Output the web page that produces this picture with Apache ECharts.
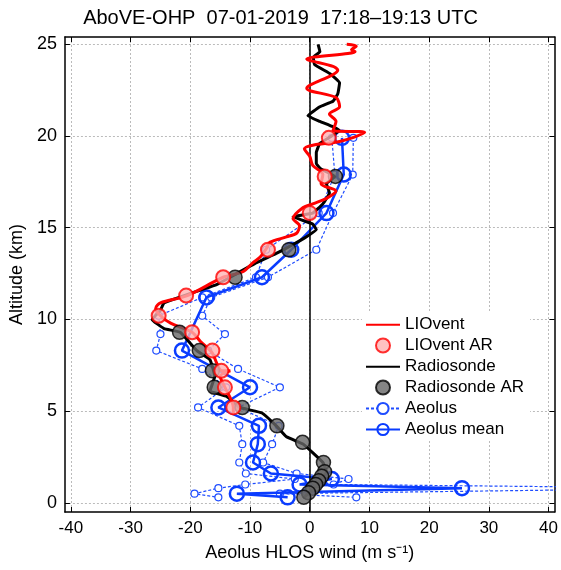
<!DOCTYPE html>
<html>
<head>
<meta charset="utf-8">
<title>AboVE-OHP</title>
<script src="https://cdn.jsdelivr.net/npm/echarts@6/dist/echarts.min.js"></script>
<style>
  body { margin: 0; background: #fff; }
  #chart { width: 561px; height: 570px; }
</style>
</head>
<body>
<div id="chart"></div>
<script>
// LIOvent lidar profile (altitude km, wind m/s)
var lioAlt = [25.0,24.9,24.7,24.6,24.2,23.8,23.6,22.6,22.1,21.6,21.2,20.8,20.3,20.2,19.7,19.5,19.3,18.9,18.4,17.9,17.4,17.0,16.6,16.3,16.1,15.5,15.1,14.7,14.5,14.2,13.9,13.4,13.1,12.6,12.3,11.3,10.9,10.6,10.2,9.8,9.3,8.8,8.2,7.2,7.2,6.9,6.3,5.2,4.8];
var lioVal = [6.2,7.8,7.0,7.6,-0.5,3.9,4.7,-0.5,4.4,5.0,3.3,4.4,3.9,9.2,5.0,0.5,-0.9,0.0,0.5,2.2,1.9,4.4,2.8,0.5,-1.1,-2.8,-1.7,-2.2,-3.9,-6.7,-7.2,-8.3,-9.5,-11.2,-14.5,-20.5,-25.0,-25.8,-25.0,-23.3,-19.7,-18.3,-16.4,-14.7,-13.3,-15.0,-14.2,-12.8,-12.8];
var lioArAlt = [19.9,17.8,15.8,13.8,12.3,11.3,10.2,9.3,8.3,7.2,6.3,5.2];
var lioArVal = [3.2,2.5,0.0,-7.0,-14.5,-20.7,-25.3,-19.7,-16.3,-14.8,-14.2,-12.8];

// radiosonde profile
var rsAlt = [25.0,24.6,24.3,23.9,23.4,22.9,22.3,21.9,21.6,21.1,20.8,20.5,20.3,19.6,19.1,18.5,18.2,17.8,17.4,16.9,16.3,15.8,15.6,15.2,14.9,14.5,14.0,13.6,13.1,12.4,11.9,11.6,10.9,10.5,10.0,9.5,9.3,8.3,7.8,6.9,6.1,5.8,5.2,4.9,4.2,3.6,3.2,2.2,1.7,0.9,0.25];
var rsVal = [1.4,1.7,0.6,0.8,3.4,5.0,4.7,3.9,1.7,-0.3,1.7,3.9,5.0,1.7,1.1,1.1,1.9,4.2,2.8,3.3,2.2,0.5,-2.8,0.5,1.1,-0.6,-3.3,-5.6,-8.9,-12.8,-15.6,-18.3,-24.4,-25.0,-26.4,-24.4,-21.7,-18.9,-16.7,-15.9,-16.7,-13.9,-11.7,-8.0,-5.6,-3.9,-1.1,2.2,2.8,1.1,-1.1];
var rsArAlt = [17.8,13.8,12.3,9.3,8.3,7.2,6.3,5.2,4.2,3.3,2.2,1.7,1.45,1.2,1.0,0.8,0.55,0.3];
var rsArVal = [4.3,-3.5,-12.5,-21.8,-18.5,-16.3,-16.0,-11.3,-5.5,-1.2,2.3,2.5,2.0,1.5,1.0,0.5,-0.2,-1.0];

// Aeolus individual profiles and mean
var aeAlt = [19.9,17.9,15.8,13.8,12.3,11.2,10.2,9.2,8.3,7.3,6.3,5.2,4.2,3.2,2.2,1.6,1.3,1.0,0.8,0.5,0.3];
var ae1Val = [3.7,4.2,1.5,-7.3,-9.0,-18.0,-25.3,-25.0,-25.7,-18.0,-14.0,-18.7,-11.8,-11.3,-11.8,-10.7,-2.5,-10.8,-15.3,-19.3,-15.3];
var ae2Val = [7.3,7.2,3.9,1.1,-7.0,-16.5,-18.0,-14.2,-17.0,-12.0,-5.0,-12.0,-5.2,-6.3,-7.8,-2.2,6.5,4.0,66.0,-5.0,7.8];
var meanAlt = [19.9,17.9,15.8,13.8,12.3,11.2,8.3,6.3,5.2,4.2,3.2,2.2,1.6,1.3,1.0,0.8,0.5,0.3];
var meanVal = [5.4,5.7,2.8,-3.1,-8.0,-17.3,-21.4,-10.0,-15.3,-8.5,-8.7,-9.5,-6.5,3.7,-1.7,25.5,-12.2,-3.7];

var xTicks = [-40,-30,-20,-10,0,10,20,30,40];
var yTicks = [0,5,10,15,20,25];

function pairs(vals, alts) {
  var out = [];
  for (var i = 0; i < vals.length; i++) out.push([vals[i], alts[i]]);
  return out;
}

var chart = echarts.init(document.getElementById('chart'));
var font = 'Liberation Sans, Arial, sans-serif';
// thin line icon for legend (invisible sliver keeps the box height)
var lineIcon = 'path://M0,5h40v2.4h-40z M0,0h0.01v12h-0.01z';

function xAx(pos, showLabel) {
  return {
    type: 'value', position: pos, min: -41, max: 41,
    axisLine: { show: true, onZero: false, lineStyle: { color: '#000', width: 1.5 } },
    axisTick: { show: true, inside: true, length: 5, customValues: xTicks, lineStyle: { color: '#000' } },
    axisLabel: { show: showLabel, customValues: xTicks, color: '#000', fontSize: 17, fontFamily: font, margin: 8 },
    splitLine: { show: showLabel, lineStyle: { color: '#bbb', type: [2, 2] } },
    name: showLabel ? 'Aeolus HLOS wind (m s\u207B\u00B9)' : '',
    nameLocation: 'middle', nameGap: 32,
    nameTextStyle: { color: '#000', fontSize: 18, fontFamily: font }
  };
}
function yAx(pos, showLabel) {
  return {
    type: 'value', position: pos, min: -0.5, max: 25.4,
    axisLine: { show: true, onZero: false, lineStyle: { color: '#000', width: 1.5 } },
    axisTick: { show: true, inside: true, length: 5, customValues: yTicks, lineStyle: { color: '#000' } },
    axisLabel: { show: showLabel, customValues: yTicks, color: '#000', fontSize: 18, fontFamily: font, margin: 8 },
    splitLine: { show: showLabel, lineStyle: { color: '#bbb', type: [2, 2] } },
    name: showLabel ? 'Altitude (km)' : '',
    nameLocation: 'middle', nameGap: 36,
    nameTextStyle: { color: '#000', fontSize: 18, fontFamily: font }
  };
}

var option = {
  animation: false,
  backgroundColor: '#fff',
  title: {
    text: 'AboVE-OHP  07-01-2019  17:18\u201319:13 UTC',
    left: 'center', top: 3,
    textStyle: { color: '#000', fontSize: 20, fontWeight: 'normal', fontFamily: font }
  },
  grid: { left: 63, right: 4, top: 37, bottom: 58 },
  xAxis: [xAx('bottom', true), xAx('top', false)],
  yAxis: [yAx('left', true), yAx('right', false)],
  legend: {
    orient: 'vertical', left: 362, top: 313,
    itemGap: 4, itemWidth: 34, itemHeight: 14,
    backgroundColor: '#fff', padding: [3, 6, 3, 3],
    textStyle: { color: '#000', fontSize: 17, fontFamily: font },
    data: [
      { name: 'LIOvent', icon: lineIcon },
      'LIOvent AR',
      { name: 'Radiosonde', icon: lineIcon },
      'Radiosonde AR', 'Aeolus', 'Aeolus mean'
    ]
  },
  series: [
    {
      name: 'Aeolus', type: 'line', data: pairs(ae1Val, aeAlt),
      symbol: 'circle', symbolSize: 7,
      itemStyle: { color: '#fff', borderColor: '#1f4dff', borderWidth: 1.2 },
      lineStyle: { color: '#1f4dff', width: 1.2, type: [3, 2] }, z: 2,
      markLine: {
        silent: true, symbol: 'none', label: { show: false },
        lineStyle: { color: '#000', width: 1.5, type: 'solid' },
        data: [{ xAxis: 0 }]
      }
    },
    {
      name: 'Aeolus', type: 'line', data: pairs(ae2Val, aeAlt),
      symbol: 'circle', symbolSize: 7,
      itemStyle: { color: '#fff', borderColor: '#1f4dff', borderWidth: 1.2 },
      lineStyle: { color: '#1f4dff', width: 1.2, type: [3, 2] }, z: 2
    },
    {
      name: 'Aeolus mean', type: 'line', data: pairs(meanVal, meanAlt),
      symbol: 'circle', symbolSize: 14,
      itemStyle: { color: 'rgba(255,255,255,0)', borderColor: '#0a3cff', borderWidth: 2.5 },
      lineStyle: { color: '#0a3cff', width: 2.5 }, z: 3
    },
    {
      name: 'Radiosonde', type: 'line', data: pairs(rsVal, rsAlt),
      symbol: 'none', smooth: 0.1,
      itemStyle: { color: '#000' }, lineStyle: { color: '#000', width: 3 }, z: 4
    },
    {
      name: 'LIOvent', type: 'line', data: pairs(lioVal, lioAlt),
      symbol: 'none', smooth: 0.3,
      itemStyle: { color: '#ff0000' }, lineStyle: { color: '#ff0000', width: 3 }, z: 5
    },
    {
      name: 'Radiosonde AR', type: 'scatter', data: pairs(rsArVal, rsArAlt),
      symbolSize: 14,
      itemStyle: { color: '#666', borderColor: '#000', borderWidth: 1.5 }, z: 6
    },
    {
      name: 'LIOvent AR', type: 'scatter', data: pairs(lioArVal, lioArAlt),
      symbolSize: 14,
      itemStyle: { color: '#ffb3b3', borderColor: '#ff0000', borderWidth: 2 }, z: 7
    }
  ]
};
chart.setOption(option);
</script>
</body>
</html>
